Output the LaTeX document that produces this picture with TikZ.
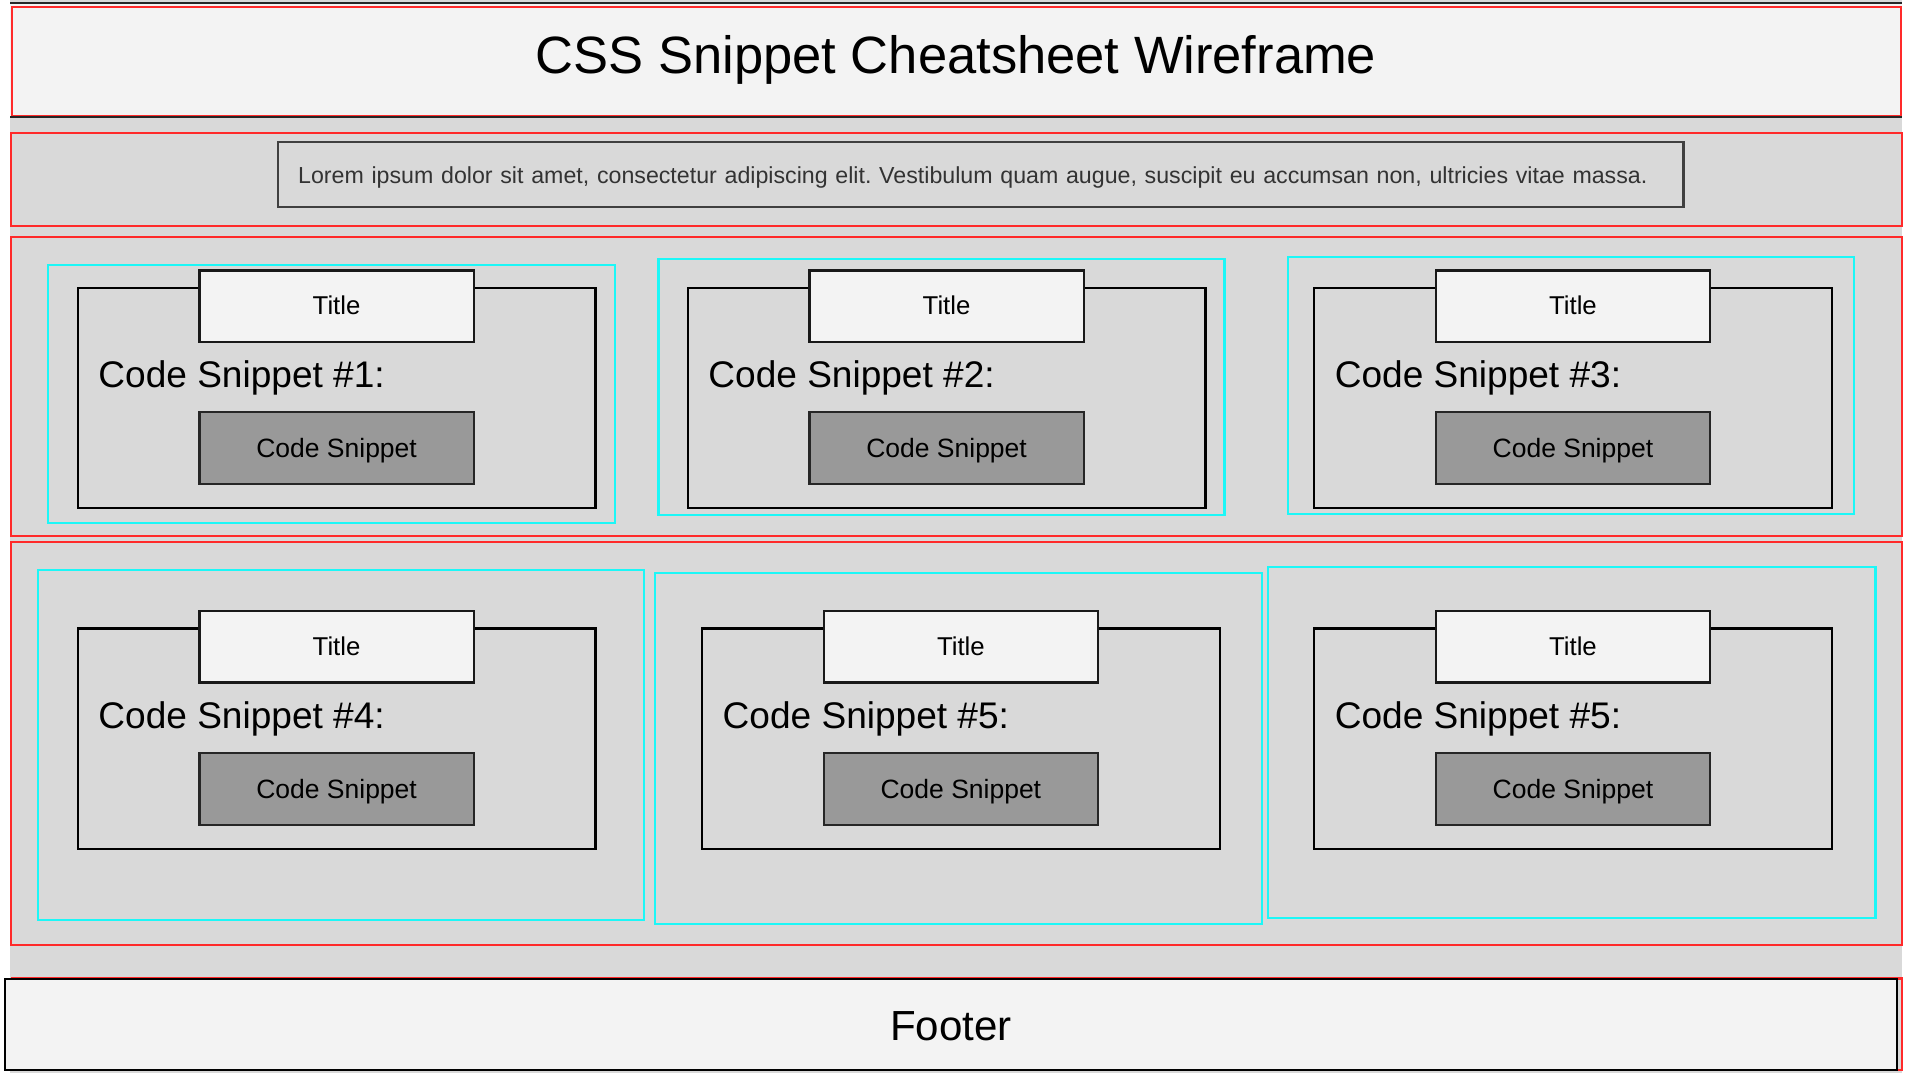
\documentclass[tikz,border=0pt]{standalone}
\usepackage{fontspec}
\setmainfont{Liberation Sans}
\usepackage{tikz}
\usetikzlibrary{positioning}

\definecolor{wfred}{HTML}{FF2A2A}
\definecolor{wfcyan}{HTML}{1CF7F7}
\definecolor{wfgray}{HTML}{D9D9D9}
\definecolor{wflight}{HTML}{F3F3F3}
\definecolor{wfbutton}{HTML}{999999}
\definecolor{wftext}{HTML}{333333}

\begin{document}
\frenchspacing
\begin{tikzpicture}[x=1pt,y=-1pt,line width=1.8pt,outer sep=0pt,
			section box/.style={draw=wfred},
			card frame/.style={draw=wfcyan},
			inner box/.style={draw=black,minimum width=422pt,minimum height=179.5pt},
			title box/.style={draw=black!90,fill=wflight,minimum width=223.4pt,
				minimum height=58pt,inner sep=0pt,text height=14.6pt,text depth=0pt,
				font=\fontsize{21}{25}\selectfont},
			code button/.style={draw=black!85,fill=wfbutton,text=black,
				minimum width=223.4pt,minimum height=58.8pt,inner sep=0pt,
				text height=15pt,text depth=0pt,font=\fontsize{21.6}{26}\selectfont},
			snippet label/.style={anchor=base west,inner sep=0pt,
				font=\fontsize{30.2}{36}\selectfont}]
			
			\useasboundingbox[fill=white] (0,0) rectangle (1565,879.5);
			\fill[wfgray] (8,0) rectangle (1550.5,875);
			
			% header
			\node[fill=wflight,minimum width=1541.5pt,minimum height=92.8pt,
				inner sep=0pt,text height=21.2pt,text depth=0pt,
				font=\fontsize{42.8}{50}\selectfont] (head) at (779.25,49.1) {CSS Snippet Cheatsheet Wireframe};
			\draw[section box] (9.5,5.4) rectangle (1549.5,94.3);
			\draw[black!85] (head.north west) -- (head.north east)
				(head.south west) -- (head.south east);
			
			% intro
			\draw[section box] (9,108.3) rectangle (1550,184);
			\node[draw=black!75,text=wftext,text width=1112.5pt,align=left,
				inner xsep=16.7pt,inner ysep=0pt,minimum height=52.9pt,
				text height=15.1pt,text depth=0pt,
				font=\fontsize{18.9}{23}\selectfont] (intro) at (799.25,142.35) {\mbox{Lorem ipsum dolor sit amet, consectetur adipiscing elit. Vestibulum quam augue, suscipit eu accumsan non, ultricies vitae massa.}};
			
			% first row
			\draw[section box] (9,193) rectangle (1550,436.7);
			\draw[card frame] (39.3,216.3) rectangle (501,426.4);
			\draw[card frame] (536.7,210.9) rectangle (998.1,419.8);
			\draw[card frame] (1049.8,209.5) rectangle (1511.2,419.2);
			
			\node[inner box] (in1) at (274.35,324.2) {};
			\node[title box] (t1) [below=-14pt of in1.north] {Title};
			\node[snippet label] (l1) at ([xshift=16.9pt,yshift=-81.5pt]in1.north west) {Code Snippet \#1:};
			\node[code button] (b1) [below=101.3pt of in1.north] {Code Snippet};
			
			\node[inner box] (in2) at (771.55,324.2) {};
			\node[title box] (t2) [below=-14pt of in2.north] {Title};
			\node[snippet label] (l2) at ([xshift=16.9pt,yshift=-81.5pt]in2.north west) {Code Snippet \#2:};
			\node[code button] (b2) [below=101.3pt of in2.north] {Code Snippet};
			
			\node[inner box] (in3) at (1282.1,324.2) {};
			\node[title box] (t3) [below=-14pt of in3.north] {Title};
			\node[snippet label] (l3) at ([xshift=16.9pt,yshift=-81.5pt]in3.north west) {Code Snippet \#3:};
			\node[code button] (b3) [below=101.3pt of in3.north] {Code Snippet};
			
			% second row
			\draw[section box] (9,441.6) rectangle (1550,770.5);
			\draw[card frame] (30.9,464.3) rectangle (525.1,749.9);
			\draw[card frame] (533.7,467.1) rectangle (1028.4,753.1);
			\draw[card frame] (1033.8,462) rectangle (1528.7,748);
			
			\node[inner box] (in4) at (274.35,602.05) {};
			\node[title box] (t4) [below=-14pt of in4.north] {Title};
			\node[snippet label] (l4) at ([xshift=16.9pt,yshift=-81.5pt]in4.north west) {Code Snippet \#4:};
			\node[code button] (b4) [below=101.3pt of in4.north] {Code Snippet};
			
			\node[inner box] (in5) at (783.2,602.05) {};
			\node[title box] (t5) [below=-14pt of in5.north] {Title};
			\node[snippet label] (l5) at ([xshift=16.9pt,yshift=-81.5pt]in5.north west) {Code Snippet \#5:};
			\node[code button] (b5) [below=101.3pt of in5.north] {Code Snippet};
			
			\node[inner box] (in6) at (1282.1,602.05) {};
			\node[title box] (t6) [below=-14pt of in6.north] {Title};
			\node[snippet label] (l6) at ([xshift=16.9pt,yshift=-81.5pt]in6.north west) {Code Snippet \#5:};
			\node[code button] (b6) [below=101.3pt of in6.north] {Code Snippet};
			
			% footer
			\draw[section box] (9.5,797.5) rectangle (1550,872.2);
			\node[draw=black,fill=wflight,minimum width=1541.9pt,minimum height=73.9pt,
				inner sep=0pt,text height=24.9pt,text depth=0pt,
				font=\fontsize{34.3}{40}\selectfont] (foot) at (775.05,835.25) {Footer};
			
		\end{tikzpicture}
\end{document}
